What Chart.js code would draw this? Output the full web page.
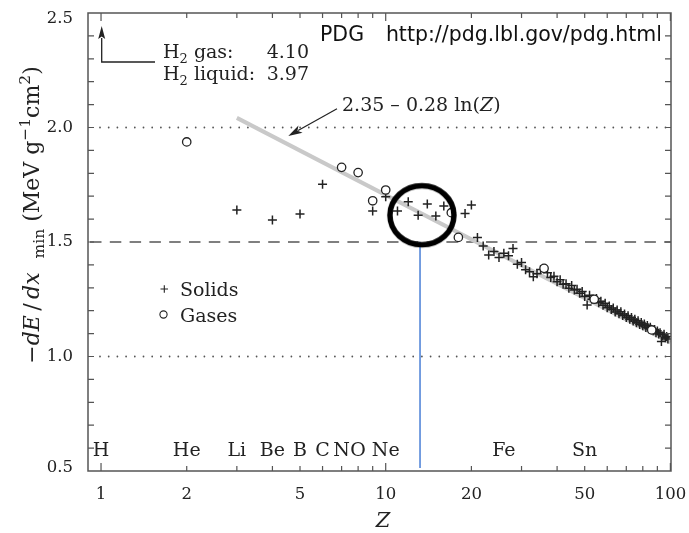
<!DOCTYPE html>
<html>
<head>
<meta charset="utf-8">
<script src="https://cdn.jsdelivr.net/npm/chart.js@4.4.1/dist/chart.umd.min.js"></script>
<style>
  html, body { margin: 0; padding: 0; background: #fff; }
</style>
</head>
<body>
<canvas id="c" width="689" height="533"></canvas>
<script>
// minimum ionization loss vs Z
const solidZ = [3, 4, 5, 6, 9, 10, 11, 12, 13, 14, 15, 16, 19, 20,
  21, 22, 23, 24, 25, 26, 27, 28, 29, 30, 31, 32, 33, 34, 35, 37, 38, 39, 40,
  41, 42, 43, 44, 45, 46, 47, 48, 49, 50, 51, 52, 53, 55, 56, 57, 58, 59, 60,
  61, 62, 63, 64, 65, 66, 67, 68, 69, 70, 71, 72, 73, 74, 75, 76, 77, 78, 79, 80,
  81, 82, 83, 84, 85, 87, 88, 89, 90, 91, 92, 93, 94, 95, 96, 97, 98];
const solidVal = [1.640, 1.596, 1.622, 1.752, 1.635, 1.698, 1.635, 1.676, 1.617, 1.666, 1.614, 1.657, 1.625, 1.662,
  1.520, 1.483, 1.443, 1.458, 1.432, 1.451, 1.440, 1.472, 1.403, 1.411, 1.379, 1.370, 1.348, 1.361, 1.380, 1.366, 1.345, 1.350, 1.326,
  1.335, 1.316, 1.318, 1.298, 1.310, 1.290, 1.294, 1.276, 1.284, 1.262, 1.225, 1.268, 1.250, 1.253, 1.235, 1.241, 1.224, 1.232, 1.213,
  1.221, 1.205, 1.212, 1.194, 1.203, 1.187, 1.195, 1.179, 1.186, 1.170, 1.178, 1.163, 1.170, 1.155, 1.163, 1.147, 1.156, 1.140, 1.149, 1.134,
  1.142, 1.127, 1.135, 1.121, 1.128, 1.112, 1.118, 1.104, 1.111, 1.098, 1.104, 1.065, 1.090, 1.097, 1.082, 1.087, 1.076];
const gasZ = [2, 7, 8, 9, 10, 17, 18, 36, 54, 86];
const gasVal = [1.937, 1.826, 1.803, 1.680, 1.727, 1.628, 1.520, 1.385, 1.250, 1.116];

// grey fit 2.35 - 0.28 ln(Z), end points as drawn
const fitZ = [3, 100];
const fitVal = [2.042, 1.061];

// blue marker line and the black ring
const cutZ = [13.2, 13.2];
const cutVal = [1.50, 0.513];
const ringZ = [13.4];
const ringVal = [1.617];

const xTickLabels = [1, 2, 5, 10, 20, 50, 100];
const xMinorTicks = [1, 2, 3, 4, 5, 6, 7, 8, 9, 10, 20, 30, 40, 50, 60, 70, 80, 90, 100];
const yTickLabels = [0.5, 1.0, 1.5, 2.0, 2.5];
const dottedLevels = [2.0, 1.0];
const dashedLevels = [1.5];

const elemNames = ['H', 'He', 'Li', 'Be', 'B', 'C', 'N', 'O', 'Ne', 'Fe', 'Sn'];
const elemZ = [1, 2, 3, 4, 5, 6, 7, 8, 10, 26, 50];

const SERIF = '"DejaVu Serif", serif';
const INK = '#222';

const pts = (xs, ys) => xs.map((v, i) => ({ x: v, y: ys[i] }));

// ring drawn as an image point style so it can be an ellipse
const ring = document.createElement('canvas');
ring.width = 76; ring.height = 70;
const rc = ring.getContext('2d');
rc.lineWidth = 5.5;
rc.strokeStyle = '#000';
rc.beginPath();
rc.ellipse(38, 35, 32, 29.5, 0, 0, Math.PI * 2);
rc.stroke();

function rich(ctx, segs, x, y) {
  segs.forEach(s => {
    ctx.font = s.f;
    ctx.fillText(s.t, x, y + (s.dy || 0));
    x += ctx.measureText(s.t).width;
  });
  return x;
}
function richWidth(ctx, segs) {
  let w = 0;
  segs.forEach(s => { ctx.font = s.f; w += ctx.measureText(s.t).width; });
  return w;
}
function arrow(ctx, x0, y0, x1, y1, len, half) {
  const ang = Math.atan2(y1 - y0, x1 - x0);
  ctx.beginPath();
  ctx.moveTo(x0, y0);
  ctx.lineTo(x1 - Math.cos(ang) * len * 0.8, y1 - Math.sin(ang) * len * 0.8);
  ctx.stroke();
  ctx.beginPath();
  ctx.moveTo(x1, y1);
  ctx.lineTo(x1 - Math.cos(ang) * len + Math.sin(ang) * half, y1 - Math.sin(ang) * len - Math.cos(ang) * half);
  ctx.lineTo(x1 - Math.cos(ang) * len * 0.75, y1 - Math.sin(ang) * len * 0.75);
  ctx.lineTo(x1 - Math.cos(ang) * len - Math.sin(ang) * half, y1 - Math.sin(ang) * len + Math.cos(ang) * half);
  ctx.closePath();
  ctx.fill();
}

const pdgPlugin = {
  id: 'pdg',
  beforeDatasetsDraw(chart) {
    const { ctx, chartArea: a, scales: { y } } = chart;
    ctx.save();
    ctx.strokeStyle = '#555';
    ctx.lineWidth = 1.8;
    ctx.lineCap = 'round';
    ctx.setLineDash([0, 8.7]);
    dottedLevels.forEach(v => {
      const py = y.getPixelForValue(v);
      ctx.beginPath(); ctx.moveTo(a.left + 12, py); ctx.lineTo(a.right - 4, py); ctx.stroke();
    });
    ctx.lineCap = 'butt';
    ctx.lineWidth = 1.5;
    ctx.setLineDash([11.5, 8.3]);
    dashedLevels.forEach(v => {
      const py = y.getPixelForValue(v);
      ctx.beginPath(); ctx.moveTo(a.left + 2, py); ctx.lineTo(a.right, py); ctx.stroke();
    });
    ctx.restore();
  },
  afterDraw(chart) {
    const { ctx, chartArea: a, scales: { x, y } } = chart;
    ctx.save();

    // inward ticks on all four sides
    ctx.strokeStyle = '#555';
    ctx.lineWidth = 1.2;
    ctx.beginPath();
    xMinorTicks.forEach(v => {
      const px = x.getPixelForValue(v);
      const len = (v === 1 || v === 10 || v === 100) ? 8 : 5;
      ctx.moveTo(px, a.bottom); ctx.lineTo(px, a.bottom - len);
      ctx.moveTo(px, a.top); ctx.lineTo(px, a.top + len);
    });
    for (let k = 6; k <= 24; k++) {
      const py = y.getPixelForValue(k / 10);
      ctx.moveTo(a.left, py); ctx.lineTo(a.left + 6, py);
      ctx.moveTo(a.right, py); ctx.lineTo(a.right - 6, py);
    }
    ctx.stroke();
    ctx.lineWidth = 1.5;
    ctx.strokeRect(a.left, a.top, a.right - a.left, a.bottom - a.top);

    ctx.fillStyle = INK;

    // tick labels
    ctx.font = `16.5px ${SERIF}`;
    ctx.textAlign = 'center';
    ctx.textBaseline = 'alphabetic';
    xTickLabels.forEach(v => ctx.fillText(String(v), x.getPixelForValue(v), 499));
    ctx.textAlign = 'right';
    ctx.textBaseline = 'middle';
    yTickLabels.forEach(v => {
      const py = Math.min(Math.max(y.getPixelForValue(v), a.top + 6), a.bottom - 3);
      ctx.fillText(v.toFixed(1), 73, py);
    });
    ctx.textBaseline = 'alphabetic';

    // element names along the bottom
    ctx.font = `19px ${SERIF}`;
    ctx.textAlign = 'center';
    elemNames.forEach((n, i) => ctx.fillText(n, x.getPixelForValue(elemZ[i]), 456));

    // legend
    ctx.textAlign = 'left';
    ctx.fillText('Solids', 180, 296);
    ctx.fillText('Gases', 180, 322);
    ctx.strokeStyle = INK;
    ctx.lineWidth = 1.1;
    ctx.beginPath();
    ctx.moveTo(160.5, 289); ctx.lineTo(168, 289);
    ctx.moveTo(164.3, 285.3); ctx.lineTo(164.3, 292.8);
    ctx.stroke();
    ctx.beginPath(); ctx.arc(163.5, 314.5, 3.6, 0, Math.PI * 2); ctx.stroke();

    // H2 note with arrow
    const nf = `19px ${SERIF}`, sf = `13px ${SERIF}`;
    rich(ctx, [{ t: 'H', f: nf }, { t: '2', f: sf, dy: 5 }, { t: ' gas:', f: nf }], 163, 58);
    rich(ctx, [{ t: 'H', f: nf }, { t: '2', f: sf, dy: 5 }, { t: ' liquid:', f: nf }], 163, 80);
    ctx.font = nf;
    ctx.textAlign = 'right';
    ctx.fillText('4.10', 309, 58);
    ctx.fillText('3.97', 309, 80);
    ctx.textAlign = 'left';
    ctx.lineWidth = 1.3;
    ctx.beginPath();
    ctx.moveTo(155, 62); ctx.lineTo(101.7, 62); ctx.lineTo(101.7, 38);
    ctx.stroke();
    ctx.beginPath();
    ctx.moveTo(101.7, 26); ctx.lineTo(98.2, 39); ctx.lineTo(101.7, 36.5); ctx.lineTo(105.2, 39);
    ctx.closePath(); ctx.fill();

    // fit formula with arrow
    rich(ctx, [{ t: '2.35 \u2013 0.28 ln(', f: nf }, { t: 'Z', f: `italic 19px ${SERIF}` }, { t: ')', f: nf }], 342, 111);
    ctx.lineWidth = 1.2;
    arrow(ctx, 337, 108.7, 288.3, 136, 14, 4.2);

    // PDG note
    ctx.font = '20.5px "DejaVu Sans", sans-serif';
    ctx.fillStyle = '#111';
    ctx.fillText('PDG', 320, 41);
    ctx.textAlign = 'right';
    ctx.fillText('http://pdg.lbl.gov/pdg.html', 662, 41);
    ctx.textAlign = 'left';
    ctx.fillStyle = INK;

    // x title
    ctx.font = `italic 21px ${SERIF}`;
    ctx.textAlign = 'center';
    ctx.fillText('Z', 383, 527);

    // y title, rotated
    const tf = `22px ${SERIF}`, ti = `italic 22px ${SERIF}`, ts = `15.5px ${SERIF}`;
    const segs = [
      { t: '\u2212', f: tf }, { t: 'dE', f: ti }, { t: '\u2009/\u2009', f: tf }, { t: 'dx', f: ti },
      { t: '  ', f: tf }, { t: 'min', f: ts, dy: 5 }, { t: ' (MeV g', f: tf },
      { t: '\u22121', f: ts, dy: -9 }, { t: 'cm', f: tf }, { t: '2', f: ts, dy: -9 }, { t: ')', f: tf }
    ];
    ctx.textAlign = 'left';
    const w = richWidth(ctx, segs);
    ctx.translate(39, 215);
    ctx.rotate(-Math.PI / 2);
    rich(ctx, segs, -w / 2, 0);
    ctx.restore();
  }
};

new Chart(document.getElementById('c'), {
  type: 'scatter',
  data: {
    datasets: [
      {
        label: 'ring',
        data: pts(ringZ, ringVal),
        pointStyle: ring,
        pointRadius: 30
      },
      {
        label: 'cut',
        type: 'line',
        data: pts(cutZ, cutVal),
        borderColor: '#4a7fd6',
        borderWidth: 1.5,
        pointRadius: 0
      },
      {
        label: 'Gases',
        data: pts(gasZ, gasVal),
        pointStyle: 'circle',
        pointRadius: 4.2,
        borderWidth: 1.3,
        borderColor: INK,
        backgroundColor: '#fff'
      },
      {
        label: 'Solids',
        data: pts(solidZ, solidVal),
        pointStyle: 'cross',
        pointRadius: 4.5,
        borderWidth: 1.5,
        borderColor: INK
      },
      {
        label: 'fit',
        type: 'line',
        data: pts(fitZ, fitVal),
        borderColor: '#c9c9c9',
        borderWidth: 4,
        pointRadius: 0
      }
    ]
  },
  options: {
    responsive: false,
    animation: false,
    events: [],
    layout: { autoPadding: false, padding: { top: 13, right: 18, left: 0, bottom: 0 } },
    plugins: { legend: { display: false }, tooltip: { enabled: false } },
    scales: {
      x: {
        type: 'logarithmic',
        min: 0.9,
        max: 100.5,
        afterBuildTicks: s => { s.ticks = xTickLabels.map(v => ({ value: v })); },
        afterFit: s => { s.height = 62; },
        grid: { display: false, drawTicks: false, tickLength: 0 },
        border: { display: false },
        ticks: { display: false }
      },
      y: {
        min: 0.5,
        max: 2.5,
        afterBuildTicks: s => { s.ticks = yTickLabels.map(v => ({ value: v })); },
        afterFit: s => { s.width = 88; },
        grid: { display: false, drawTicks: false, tickLength: 0 },
        border: { display: false },
        ticks: { display: false }
      }
    }
  },
  plugins: [pdgPlugin]
});
</script>
</body>
</html>
